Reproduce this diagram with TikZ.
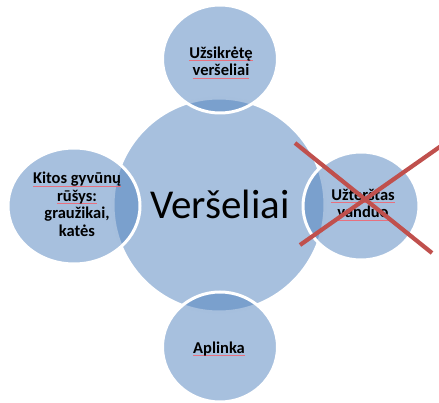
\documentclass[tikz,border=0pt]{standalone}
\usepackage{fontspec}
\setmainfont{Carlito}
\usetikzlibrary{shapes.geometric}
\definecolor{circ}{HTML}{4F81BD}
\definecolor{xred}{HTML}{C0504D}
\definecolor{squig}{HTML}{E8707E}
\newcommand\spl[1]{\leavevmode\setbox0\hbox{#1}\rlap{\textcolor{squig}{\rule[-2.4pt]{\wd0}{0.4pt}}}\box0}
\tikzset{
  bub/.style={ellipse, inner sep=0pt, fill=circ, fill opacity=0.5, draw=white, draw opacity=1, line width=3pt},
  lbl/.style={font=\bfseries\fontsize{16.5}{17.5}\selectfont, align=center, text=black, inner sep=0pt},
  xline/.style={draw=xred, line width=4.2pt}
}
\begin{document}
\begin{tikzpicture}[x=1pt,y=-1pt]
\useasboundingbox (0,0) rectangle (439,403);
% central circle
\node[bub, minimum width=212pt, minimum height=214pt] (c) at (219,205) {};
% satellites
\node[bub, minimum width=115pt, minimum height=108pt] (t) at (220,59) {};
\node[bub, minimum width=132pt, minimum height=116pt] (l) at (74,206) {};
\node[bub, minimum width=116pt, minimum height=108pt] (r) at (361,206) {};
\node[bub, minimum width=115pt, minimum height=110pt] (b) at (220,347) {};
% labels
\node[font=\fontsize{41}{45}\selectfont, inner sep=0pt] (ct) at (220,204) {Veršeliai};
\node[lbl] (tt) at (221,62.5) {\spl{Užsikrėtę}\\\spl{veršeliai}};
\node[lbl] (lt) at (77,204.5) {\spl{Kitos gyvūnų}\\\spl{rūšys:}\\graužikai,\\katės};
\node[lbl] (rt) at (363,204.5) {\spl{Užterštas}\\\spl{vanduo}};
\node[lbl] (bt) at (219,349) {\spl{Aplinka}};
% red cross
\coordinate (x1) at (295,143);
\coordinate (x2) at (432,253);
\coordinate (x3) at (300,245);
\coordinate (x4) at (441,146);
\draw[xline] (x1) -- (x2);
\draw[xline] (x3) -- (x4);
\end{tikzpicture}
\end{document}
